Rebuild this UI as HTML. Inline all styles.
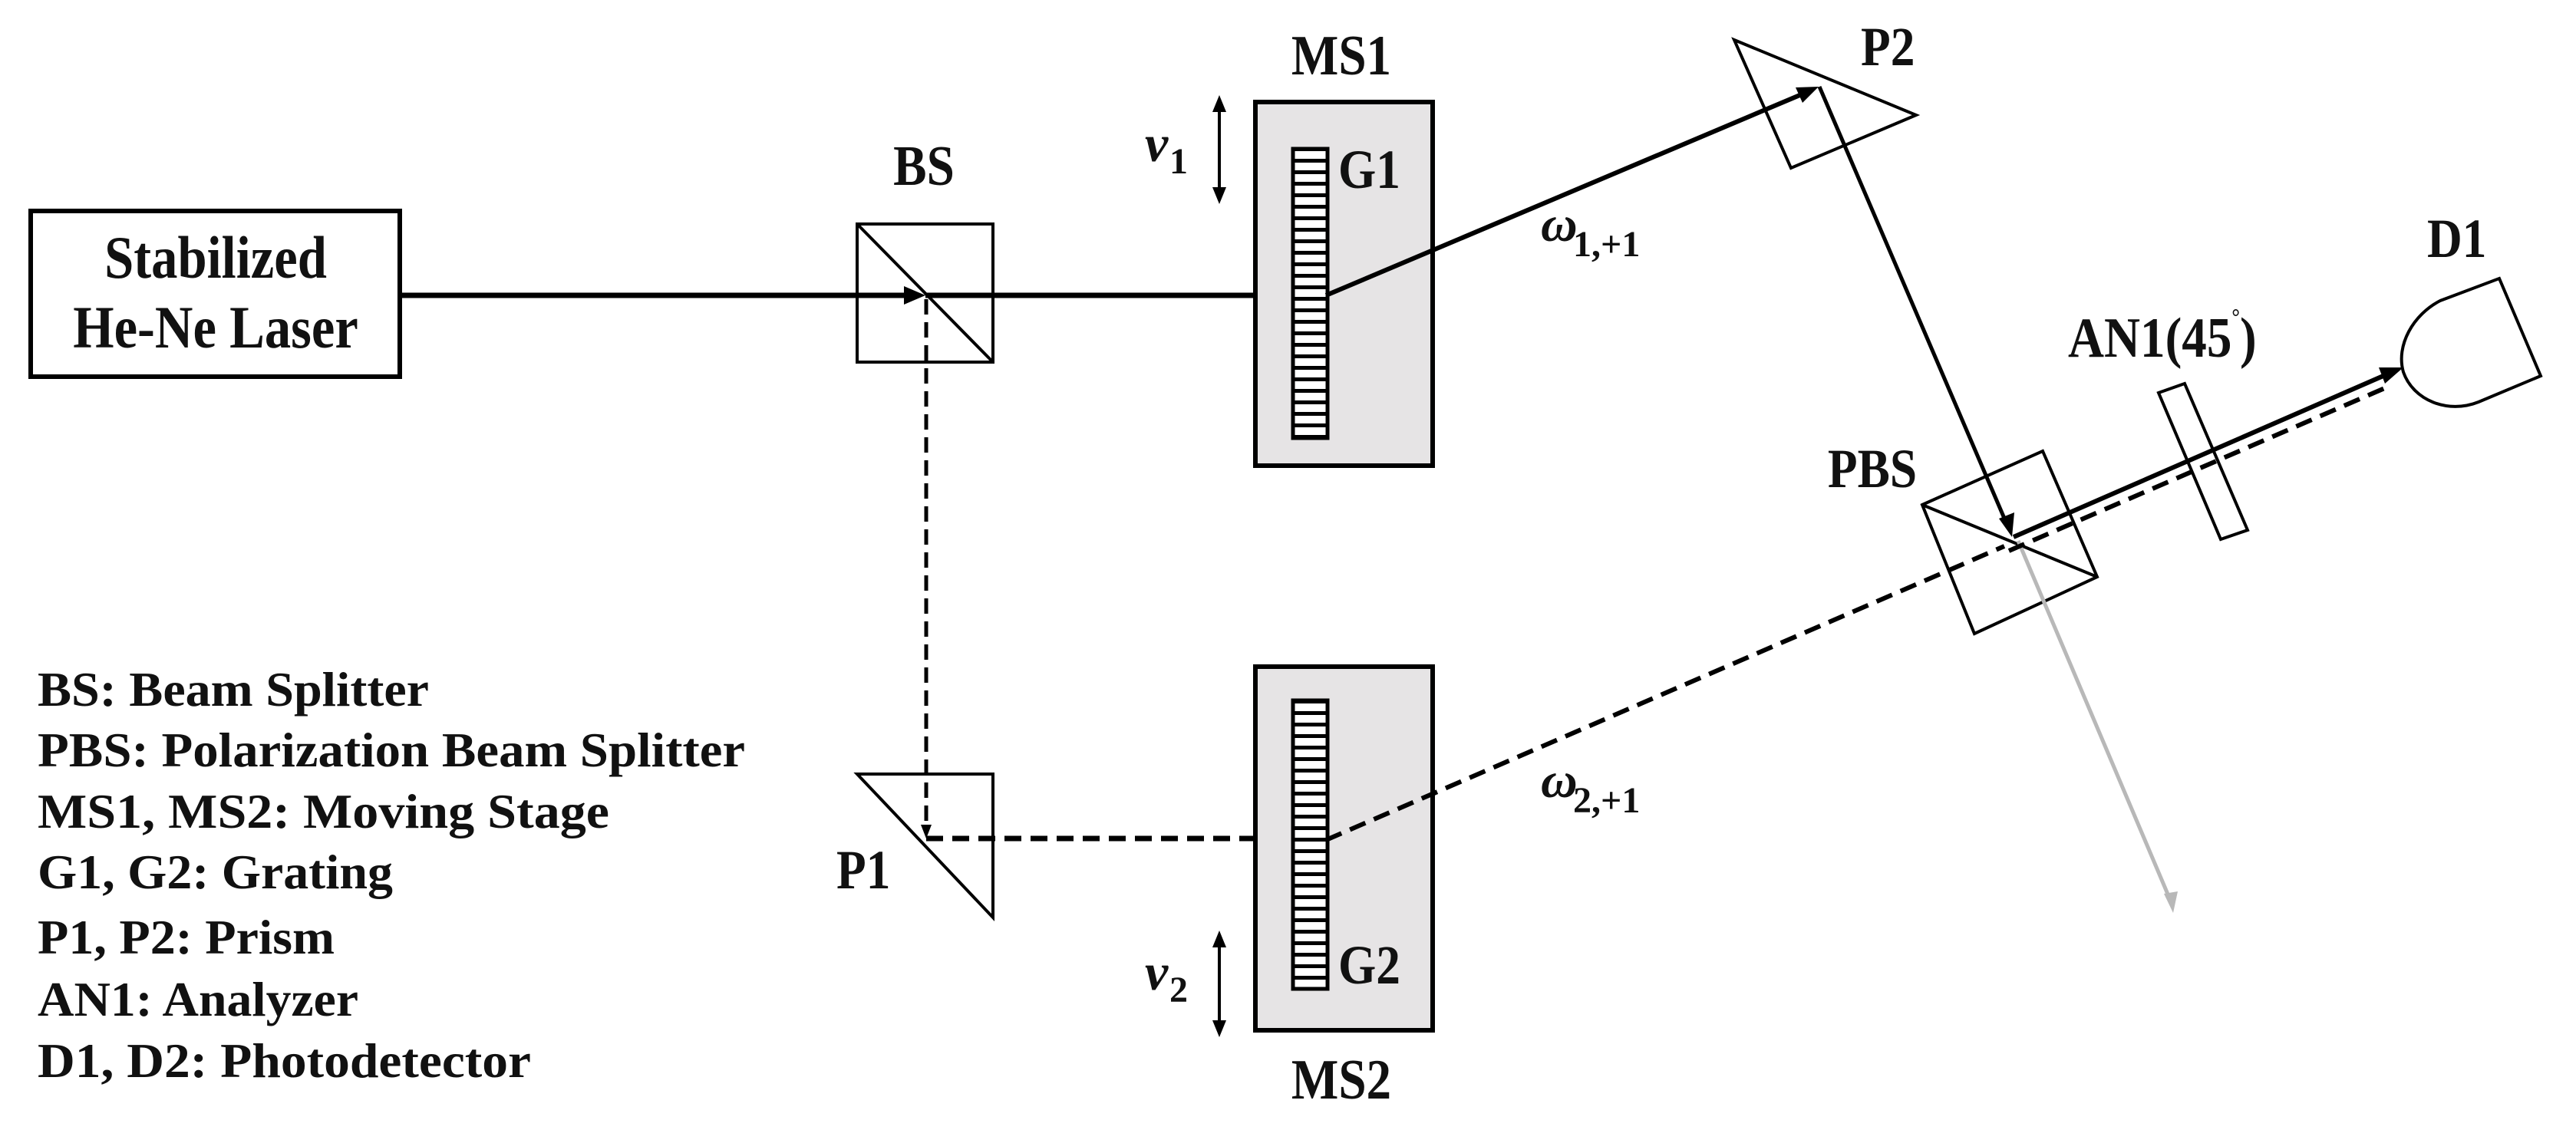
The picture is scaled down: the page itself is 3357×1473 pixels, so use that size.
<!DOCTYPE html>
<html><head><meta charset="utf-8"><style>
html,body{margin:0;padding:0;background:#fff}
svg{display:block}
text{font-family:"Liberation Serif",serif;font-weight:bold;fill:#111}
</style></head><body>
<svg width="3357" height="1473" viewBox="0 0 3357 1473" xmlns="http://www.w3.org/2000/svg">
<defs>
<pattern id="gr" x="0" y="192" width="50" height="15" patternUnits="userSpaceOnUse">
<rect width="50" height="15" fill="#fff"/><rect width="50" height="5" fill="#000"/>
</pattern>
</defs>
<!-- Laser -->
<rect x="40" y="275" width="481" height="216" fill="#fff" stroke="#000" stroke-width="6"/>
<g transform="translate(281,0) scale(0.88,1)">
<text x="0" y="362" font-size="78" text-anchor="middle">Stabilized</text>
<text x="0" y="453" font-size="78" text-anchor="middle">He-Ne Laser</text>
</g>

<!-- BS -->
<g transform="translate(1204,0) scale(0.88,1)"><text x="0" y="241" font-size="74" text-anchor="middle">BS</text></g>
<rect x="1117" y="292" width="177" height="180" fill="none" stroke="#000" stroke-width="4"/>
<line x1="1117" y1="292" x2="1294" y2="472" stroke="#000" stroke-width="4"/>

<!-- main beam -->
<line x1="523" y1="385" x2="1190" y2="385" stroke="#000" stroke-width="7"/>
<polygon points="1206,385 1178,373 1178,397" fill="#000"/>
<line x1="1206" y1="385" x2="1665" y2="385" stroke="#000" stroke-width="7"/>
<polygon points="1683,385 1655,373 1655,397" fill="#000"/>

<!-- MS1 -->
<g transform="translate(1748,0) scale(0.88,1)"><text x="0" y="97" font-size="74" text-anchor="middle">MS1</text></g>
<rect x="1636" y="133" width="231" height="474" fill="#e6e4e5" stroke="#000" stroke-width="6"/>
<rect x="1685" y="194" width="45" height="377" fill="url(#gr)" stroke="#000" stroke-width="5"/>
<g transform="translate(1744,0) scale(0.88,1)"><text x="0" y="245" font-size="72">G1</text></g>
<!-- v1 -->
<line x1="1589" y1="135" x2="1589" y2="256" stroke="#000" stroke-width="4"/>
<polygon points="1589,124 1580,146 1598,146" fill="#000"/>
<polygon points="1589,266 1580,244 1598,244" fill="#000"/>
<text x="1492" y="210" font-size="68" font-style="italic" font-weight="normal">v</text>
<text x="1524" y="226" font-size="48" font-weight="normal">1</text>

<!-- beam to P2 -->
<line x1="1728" y1="385" x2="2355" y2="120" stroke="#000" stroke-width="6"/>
<polygon points="2370,113 2340,114 2349,134" fill="#000"/>
<text x="2008" y="314" font-size="66" font-style="italic">ω</text>
<text x="2050" y="334" font-size="48">1,+1</text>

<!-- P2 -->
<polygon points="2260,52 2497,150 2334,219" fill="none" stroke="#000" stroke-width="4"/>
<g transform="translate(2425,0) scale(0.88,1)"><text x="0" y="85" font-size="72">P2</text></g>
<line x1="2371" y1="113" x2="2616" y2="685" stroke="#000" stroke-width="5"/>
<polygon points="2622,700 2605,676 2625,668" fill="#000"/>

<!-- PBS -->
<g transform="translate(2440,0) scale(0.88,1)"><text x="0" y="635" font-size="72" text-anchor="middle">PBS</text></g>
<polygon points="2505,658 2662,588 2733,752 2573,826" fill="none" stroke="#000" stroke-width="4"/>
<line x1="2505" y1="658" x2="2733" y2="752" stroke="#000" stroke-width="4"/>
<line x1="2630" y1="705" x2="2829" y2="1175" stroke="#b8b8b8" stroke-width="5"/>
<polygon points="2832,1190 2820,1165 2838,1162" fill="#b8b8b8"/>

<!-- to D1 -->
<line x1="2624" y1="700" x2="3115" y2="486" stroke="#000" stroke-width="6"/>
<polygon points="3132,479 3100,479 3108,500" fill="#000"/>
<line x1="2618" y1="718" x2="3110" y2="505" stroke="#000" stroke-width="6" stroke-dasharray="22,12"/>
<polygon points="2813,512 2847,500 2929,691 2894,703" fill="none" stroke="#000" stroke-width="4"/>
<g transform="translate(2695,0) scale(0.88,1)"><text x="0" y="465" font-size="74">AN1(45<tspan font-size="30" dy="-42">°</tspan><tspan dy="42">)</tspan></text></g>
<path d="M3257,363 L3311,490 L3230,524 C3190,540 3145,522 3132,485 C3122,450 3145,410 3180,392 Z" fill="#fff" stroke="#000" stroke-width="4"/>
<g transform="translate(3163,0) scale(0.88,1)"><text x="0" y="335" font-size="72">D1</text></g>

<!-- dashed down -->
<line x1="1207" y1="390" x2="1207" y2="1080" stroke="#000" stroke-width="5" stroke-dasharray="20,10"/>
<polygon points="1207,1093 1200,1075 1214,1075" fill="#000"/>
<polygon points="1117,1009 1294,1009 1294,1196" fill="none" stroke="#000" stroke-width="4"/>
<g transform="translate(1090,0) scale(0.88,1)"><text x="0" y="1158" font-size="72">P1</text></g>
<line x1="1207" y1="1093" x2="1665" y2="1093" stroke="#000" stroke-width="7" stroke-dasharray="22,12"/>
<polygon points="1683,1093 1657,1082 1657,1104" fill="#000"/>

<!-- MS2 -->
<rect x="1636" y="869" width="231" height="474" fill="#e6e4e5" stroke="#000" stroke-width="6"/>
<rect x="1685" y="913" width="45" height="376" fill="url(#gr)" stroke="#000" stroke-width="5"/>
<g transform="translate(1744,0) scale(0.88,1)"><text x="0" y="1282" font-size="72">G2</text></g>
<g transform="translate(1748,0) scale(0.88,1)"><text x="0" y="1432" font-size="74" text-anchor="middle">MS2</text></g>
<line x1="1589" y1="1225" x2="1589" y2="1340" stroke="#000" stroke-width="4"/>
<polygon points="1589,1213 1580,1235 1598,1235" fill="#000"/>
<polygon points="1589,1352 1580,1330 1598,1330" fill="#000"/>
<text x="1492" y="1290" font-size="68" font-style="italic" font-weight="normal">v</text>
<text x="1524" y="1306" font-size="48" font-weight="normal">2</text>

<line x1="1728" y1="1095" x2="2612" y2="712" stroke="#000" stroke-width="6" stroke-dasharray="22,12"/>
<text x="2008" y="1039" font-size="66" font-style="italic">ω</text>
<text x="2050" y="1059" font-size="48">2,+1</text>

<!-- legend -->
<g font-size="64">
<text x="49" y="920" textLength="510" lengthAdjust="spacingAndGlyphs">BS: Beam Splitter</text>
<text x="49" y="999" textLength="922" lengthAdjust="spacingAndGlyphs">PBS: Polarization  Beam Splitter</text>
<text x="49" y="1079" textLength="745" lengthAdjust="spacingAndGlyphs">MS1, MS2: Moving Stage</text>
<text x="49" y="1158" textLength="463" lengthAdjust="spacingAndGlyphs">G1, G2: Grating</text>
<text x="49" y="1243" textLength="387" lengthAdjust="spacingAndGlyphs">P1, P2: Prism</text>
<text x="49" y="1324" textLength="418" lengthAdjust="spacingAndGlyphs">AN1: Analyzer</text>
<text x="49" y="1404" textLength="643" lengthAdjust="spacingAndGlyphs">D1, D2: Photodetector</text>
</g>
</svg>
</body></html>
